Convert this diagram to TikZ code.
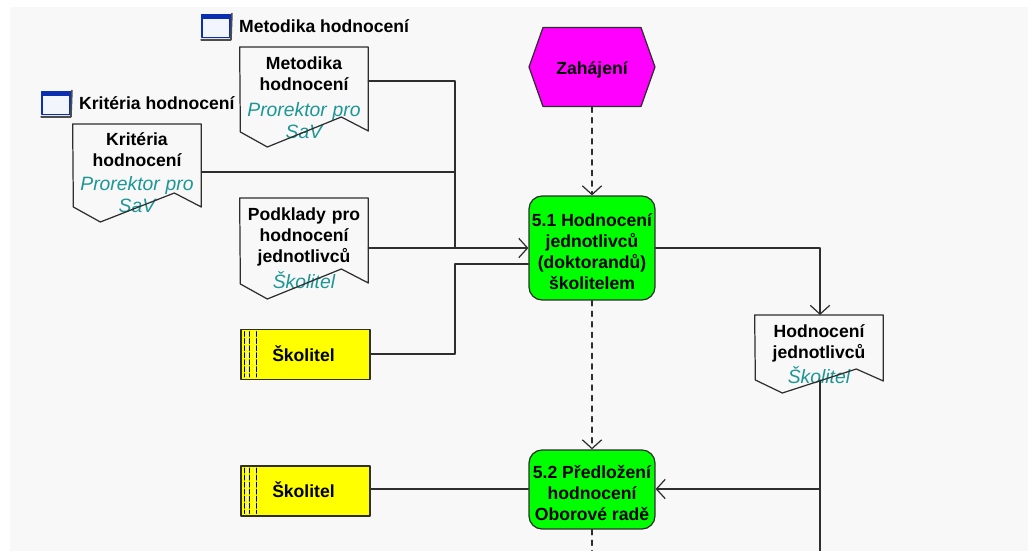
\documentclass[tikz,border=0pt]{standalone}
\usepackage{fontspec}
\setmainfont{Liberation Sans}
\usetikzlibrary{arrows.meta,positioning,shapes.symbols}
\definecolor{plocha}{HTML}{F8F8F8}
\definecolor{linka}{HTML}{2E2E2E}
\definecolor{role}{HTML}{1E9696}
\definecolor{funkce}{HTML}{00FF00}
\definecolor{udalost}{HTML}{FF00FF}
\definecolor{jednotka}{HTML}{FFFF00}
\definecolor{okno}{HTML}{0A2FB0}
\definecolor{oknovnitrek}{HTML}{F2F5FC}
\newcommand{\rolename}[1]{{\fontsize{11}{12}\selectfont\itshape\mdseries\color{role}#1}}
\newcommand{\firstline}{\rule{0pt}{11.5pt}}
\tikzset{
  wire/.style={draw=linka,line width=0.7pt},
  flow/.style={wire,dashed,dash pattern=on 3pt off 3pt},
  docnode/.style={anchor=north,text width=2.56cm,inner xsep=0pt,inner ysep=5.2pt,align=center,font=\bfseries,text=black},
  tasknode/.style={wire,fill=funkce,rounded corners=0.26cm,minimum width=2.52cm,inner sep=0pt,align=center,font=\bfseries},
  rolenode/.style={wire,fill=jednotka,minimum width=2.58cm,minimum height=1cm,inner sep=0pt,font=\bfseries},
  winicon/.style={draw=okno,line width=1pt,fill=oknovnitrek,minimum width=0.56cm,minimum height=0.46cm,inner sep=0pt},
  winlabel/.style={inner sep=0pt,font=\bfseries},
}
\begin{document}
\begin{tikzpicture}[line cap=round,line join=round,>={Straight Barb[length=5pt,width=11pt]},x=0.02cm,y=-0.02cm]
\useasboundingbox (0,0) rectangle (1028,551);
\fill [plocha] (10,7) rectangle (1028,551);
% okna s popisky
\node (ikonam) [winicon] at (216,26) {};
\node (ikonak) [winicon] at (56,103) {};
\node (popism) [winlabel,right=0.16cm of ikonam] {Metodika hodnocení};
\node (popisk) [winlabel,right=0.16cm of ikonak] {Kritéria hodnocení};
\foreach \n in {ikonam,ikonak} {
  \fill [okno] (\n.north west) rectangle ([yshift=-0.1cm]\n.north east);
  \draw [black!70,line width=1pt] ([yshift=-0.03cm]\n.south west) -- ([yshift=-0.03cm]\n.south east) -- ([xshift=0.02cm]\n.north east);
}
% dokumenty
\node (metodika) [docnode] at (304,47) {Metodika\\hodnocení\\[3pt]\rolename{Prorektor pro}\\[0.5pt]\rolename{SaV}};
\node (kriteria) [docnode,inner ysep=4.5pt] at (137,124) {Kritéria\\hodnocení\\[2pt]\rolename{Prorektor pro}\\[0.5pt]\rolename{SaV}};
\node (podklady) [docnode] at (304,198) {Podklady pro\\hodnocení\\jednotlivců\\[3pt]\rolename{Školitel}};
\node (hodnoceni) [docnode] at (819,315) {Hodnocení\\jednotlivců\\[2.5pt]\rolename{Školitel}};
\foreach \n/\d/\a/\b/\c in {metodika/84/14/30/15,kriteria/83/14/29/15,podklady/85/14/30/15,hodnoceni/66/12/24/13}
  \draw [wire] (\n.north west) -- (\n.north east) -- ++(0,\d) -- ++(-27,-\a) -- ++(-74,\b) -- ++(-27,-\c) -- cycle;
% funkce a udalost
\node (zahajeni) [wire,fill=udalost,signal,signal to=west and east,signal pointer angle=141,minimum width=2.52cm,minimum height=1.58cm,inner sep=0pt,font=\bfseries] at (592,67) {\raisebox{-1.5pt}[7pt][2pt]{Zahájení}};
\node (hodnot) [tasknode,minimum height=2.08cm] at (592,248) {\firstline 5.1 Hodnocení\\jednotlivců\\(doktorandů)\\školitelem};
\node (predlozeni) [tasknode,minimum height=1.58cm] at (592,489.5) {\firstline 5.2 Předložení\\hodnocení\\Oborové radě};
% organizacni jednotky
\node (skolitela) [rolenode] at (305.5,354.5) {\hspace*{-0.08cm}\raisebox{-1.3pt}[7pt][2pt]{Školitel}};
\node (skolitelb) [rolenode] at (305.5,491) {\hspace*{-0.08cm}\raisebox{-1.3pt}[7pt][2pt]{Školitel}};
\foreach \n in {skolitela,skolitelb} {
  \foreach \x in {4,9,16} {
    \draw [black,line width=1pt,dash pattern=on 2.5pt off 1.5pt] ([xshift=\x*0.02cm,yshift=-0.06cm]\n.north west) -- ([xshift=\x*0.02cm,yshift=0.07cm]\n.south west);
  }
  \draw [white,line width=0.7pt,dash pattern=on 2.5pt off 1.5pt] ([xshift=0.14cm,yshift=-0.06cm]\n.north west) -- ([xshift=0.14cm,yshift=0.07cm]\n.south west);
  \draw [white,line width=0.7pt,dash pattern=on 2.5pt off 1.5pt] ([xshift=0.28cm,yshift=-0.06cm]\n.north west) -- ([xshift=0.28cm,yshift=0.07cm]\n.south west);
}
% spojnice
\coordinate (busa) at (455,81);
\coordinate (busb) at (455,172);
\coordinate (busc) at (455,248);
\coordinate (busd) at (455,264);
\coordinate (buse) at (455,354);
\coordinate (ohyb) at (820,248);
\coordinate (vetev) at (820,489);
\coordinate (vlna) at (820,380);
\coordinate (konecv) at (820,551);
\coordinate (konecf) at (592,551);
\draw [wire] (metodika.east |- busa) -- (busa) -- (busc);
\draw [wire] (kriteria.east |- busb) -- (busb);
\draw [wire,->] (podklady.east |- busc) -- (hodnot.west |- busc);
\draw [wire] (skolitela.east |- buse) -- (buse) -- (busd) -- (hodnot.west |- busd);
\draw [wire,->] (hodnot.east |- ohyb) -- (ohyb) -- (hodnoceni.north -| ohyb);
\draw [wire] (vlna) -- (konecv);
\draw [wire,->] (vetev) -- (predlozeni.east |- vetev);
\draw [wire] (skolitelb.east |- vetev) -- (predlozeni.west |- vetev);
\draw [flow,->] (zahajeni.south) -- (hodnot.north);
\draw [flow,->] (hodnot.south) -- (predlozeni.north);
\draw [flow] (predlozeni.south) -- (konecf);
\end{tikzpicture}
\end{document}
